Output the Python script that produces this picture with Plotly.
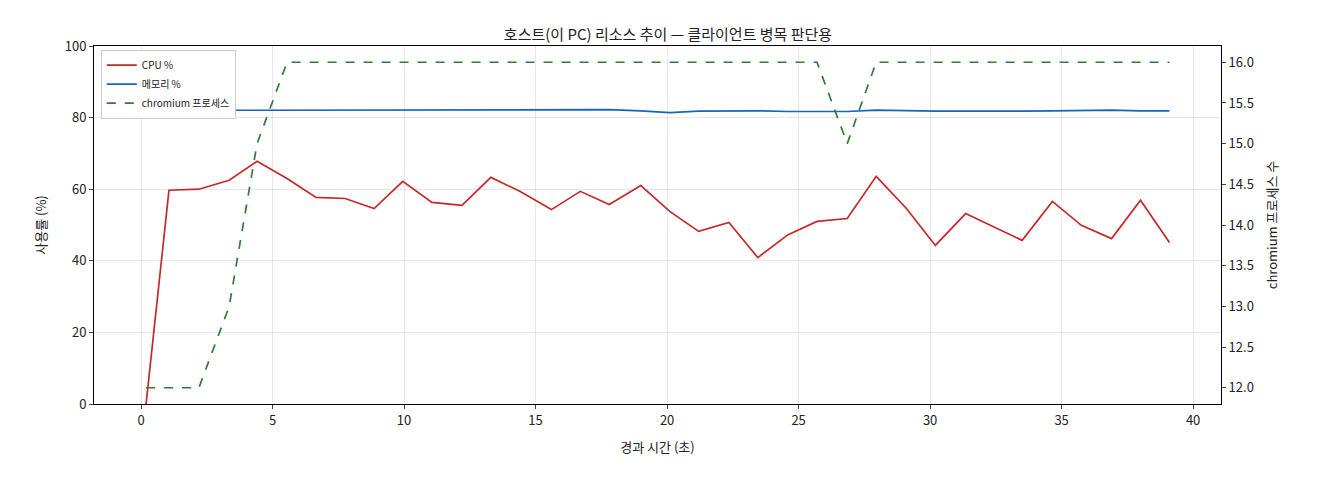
import plotly.graph_objects as go

t = [0.19,1.06,2.2,3.35,4.41,5.55,6.65,7.76,8.86,9.95,11.06,12.2,13.3,14.4,15.6,16.7,17.8,19.0,
     20.1,21.2,22.35,23.45,24.6,25.7,26.85,27.95,29.1,30.2,31.35,32.4,33.5,34.65,35.75,36.9,38.0,39.1]
cpu = [0,59.7,60,62.5,67.8,63,57.7,57.4,54.6,62.2,56.3,55.5,63.3,59.4,54.3,59.4,55.7,61,
       53.8,48.2,50.7,40.9,47.3,51,51.8,63.6,54.6,44.3,53.2,49.6,45.7,56.6,49.9,46.2,56.9,45.1]
mem = [82.0,82.0,82.0,82.0,82.0,82.0,82.0,82.1,82.0,82.1,82.2,82.0,82.1,82.2,82.2,82.1,82.2,81.9,
       81.4,81.8,81.9,81.9,81.7,81.8,81.7,82.1,81.9,81.8,81.8,81.9,81.8,81.9,82.0,82.1,81.9,81.9]
chrom = [12,12,12,13,15,16,16,16,16,16,16,16,16,16,16,16,16,16,
         16,16,16,16,16,16,15,16,16,16,16,16,16,16,16,16,16,16]

F = "Noto Sans CJK KR"
fig = go.Figure()
fig.add_trace(go.Scatter(x=t, y=cpu, name="CPU %", mode="lines", line=dict(color="#c62828", width=1.7)))
fig.add_trace(go.Scatter(x=t, y=mem, name="메모리 %", mode="lines", line=dict(color="#1565c0", width=1.7)))
fig.add_trace(go.Scatter(x=t, y=chrom, name="chromium 프로세스", mode="lines", yaxis="y2",
                         line=dict(color="#2e7d32", width=1.7, dash="dash")))
base = dict(showline=True, linecolor="black", ticks="outside", ticklen=4,
            tickfont=dict(size=13, color="#222"), zeroline=False)
fig.update_layout(
    width=1320, height=480, plot_bgcolor="white", paper_bgcolor="white",
    font=dict(family=F, color="#222"),
    margin=dict(l=86, r=107, t=38, b=84),
    title=dict(text="호스트(이 PC) 리소스 추이 — 클라이언트 병목 판단용", x=0.5, xanchor="center", y=0.955,
               font=dict(size=15)),
    xaxis=dict(range=[-1.79, 41.06], dtick=5, showgrid=True, gridcolor="rgba(0,0,0,0.09)",
               title=dict(text="경과 시간 (초)", font=dict(size=13)), mirror=True, **base),
    yaxis=dict(range=[0, 100], dtick=20, showgrid=True, gridcolor="rgba(0,0,0,0.09)",
               title=dict(text="사용률 (%)", font=dict(size=13)), mirror=True, **base),
    yaxis2=dict(range=[11.8, 16.2], dtick=0.5, tickformat=".1f", overlaying="y", side="right", showgrid=False,
                title=dict(text="chromium 프로세스 수", font=dict(size=13)), **base),
    legend=dict(x=0.006, y=0.99, xanchor="left", yanchor="top", bgcolor="white",
                bordercolor="#ccc", borderwidth=1, font=dict(size=10)),
)
fig.write_html("out.html")
